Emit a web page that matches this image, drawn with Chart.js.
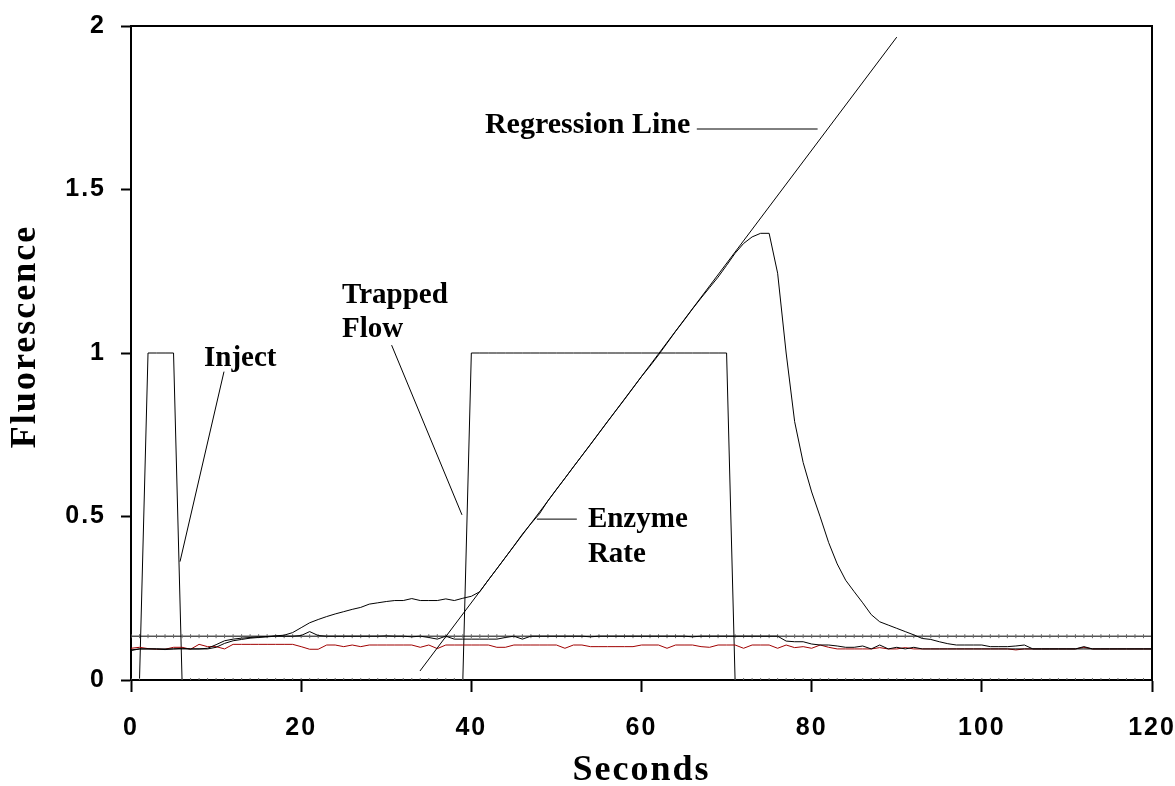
<!DOCTYPE html>
<html><head><meta charset="utf-8">
<script src="https://cdn.jsdelivr.net/npm/chart.js@4"></script>
<style>html,body{margin:0;padding:0;background:#fff;}canvas{display:block;}</style>
</head><body>
<canvas id="c" width="1175" height="786"></canvas>
<script>
const seconds = [0,1,2,3,4,5,6,7,8,9,10,11,12,13,14,15,16,17,18,19,20,21,22,23,24,25,26,27,28,29,30,31,32,33,34,35,36,37,38,39,40,41,42,43,44,45,46,47,48,49,50,51,52,53,54,55,56,57,58,59,60,61,62,63,64,65,66,67,68,69,70,71,72,73,74,75,76,77,78,79,80,81,82,83,84,85,86,87,88,89,90,91,92,93,94,95,96,97,98,99,100,101,102,103,104,105,106,107,108,109,110,111,112,113,114,115,116,117,118,119,120];

const valve = [0,0,1,1,1,1,0,0,0,0, 0,0,0,0,0,0,0,0,0,0, 0,0,0,0,0,0,0,0,0,0, 0,0,0,0,0,0,0,0,0,0,
  1,1,1,1,1,1,1,1,1,1, 1,1,1,1,1,1,1,1,1,1, 1,1,1,1,1,1,1,1,1,1, 1,0,0,0,0,0,0,0,0,0,
  0,0,0,0,0,0,0,0,0,0, 0,0,0,0,0,0,0,0,0,0, 0,0,0,0,0,0,0,0,0,0, 0,0,0,0,0,0,0,0,0,0, 0];

const threshold = [0.134,0.134,0.134,0.134,0.134,0.134,0.134,0.134,0.134,0.134, 0.134,0.134,0.134,0.134,0.134,0.134,0.134,0.134,0.134,0.134,
  0.134,0.134,0.134,0.134,0.134,0.134,0.134,0.134,0.134,0.134, 0.134,0.134,0.134,0.134,0.134,0.134,0.134,0.134,0.134,0.134,
  0.134,0.134,0.134,0.134,0.134,0.134,0.134,0.134,0.134,0.134, 0.134,0.134,0.134,0.134,0.134,0.134,0.134,0.134,0.134,0.134,
  0.134,0.134,0.134,0.134,0.134,0.134,0.134,0.134,0.134,0.134, 0.134,0.134,0.134,0.134,0.134,0.134,0.134,0.134,0.134,0.134,
  0.134,0.134,0.134,0.134,0.134,0.134,0.134,0.134,0.134,0.134, 0.134,0.134,0.134,0.134,0.134,0.134,0.134,0.134,0.134,0.134,
  0.134,0.134,0.134,0.134,0.134,0.134,0.134,0.134,0.134,0.134, 0.134,0.134,0.134,0.134,0.134,0.134,0.134,0.134,0.134,0.134, 0.134];

const sampleA = [0.092,0.095,0.095,0.095,0.093,0.095,0.097,0.095,0.095,0.097,
  0.108,0.120,0.125,0.128,0.130,0.132,0.133,0.135,0.137,0.145,
  0.160,0.175,0.185,0.194,0.202,0.209,0.216,0.222,0.232,0.236,
  0.240,0.243,0.243,0.249,0.243,0.243,0.243,0.248,0.243,0.250,
  0.256,0.270,0.306,0.340,0.375,0.410,0.446,0.478,0.508,0.548,
  0.583,0.617,0.652,0.686,0.720,0.755,0.790,0.824,0.858,0.893,
  0.928,0.960,0.994,1.030,1.066,1.100,1.135,1.168,1.200,1.232,
  1.268,1.305,1.335,1.355,1.366,1.366,1.244,1.000,0.790,0.665,
  0.575,0.499,0.420,0.355,0.305,0.270,0.236,0.200,0.178,0.168,
  0.158,0.148,0.138,0.127,0.124,0.117,0.111,0.107,0.107,0.107,
  0.107,0.102,0.102,0.102,0.104,0.107,0.095,0.095,0.095,0.095,
  0.095,0.095,0.095,0.095,0.095,0.095,0.095,0.095,0.095,0.095, 0.095];

const sampleB = [0.090,0.095,0.095,0.095,0.095,0.095,0.095,0.095,0.095,0.095,
  0.100,0.112,0.120,0.124,0.128,0.130,0.132,0.134,0.134,0.134,
  0.136,0.148,0.136,0.134,0.134,0.134,0.134,0.134,0.134,0.134,
  0.135,0.134,0.134,0.132,0.134,0.130,0.125,0.134,0.125,0.125,
  0.125,0.125,0.125,0.125,0.130,0.134,0.125,0.134,0.134,0.134,
  0.134,0.134,0.134,0.134,0.132,0.134,0.134,0.134,0.134,0.134,
  0.134,0.134,0.134,0.134,0.134,0.134,0.132,0.134,0.134,0.134,
  0.134,0.134,0.134,0.134,0.134,0.134,0.134,0.119,0.117,0.117,
  0.110,0.107,0.107,0.104,0.100,0.100,0.104,0.095,0.107,0.095,
  0.100,0.095,0.100,0.095,0.095,0.095,0.095,0.095,0.095,0.095,
  0.095,0.095,0.095,0.095,0.095,0.095,0.095,0.095,0.095,0.095,
  0.095,0.095,0.102,0.095,0.095,0.095,0.095,0.095,0.095,0.095, 0.095];

const control = [0.097,0.100,0.096,0.094,0.094,0.100,0.100,0.094,0.109,0.102,
  0.102,0.095,0.109,0.109,0.109,0.109,0.109,0.109,0.109,0.109,
  0.102,0.094,0.094,0.107,0.107,0.102,0.107,0.102,0.107,0.107,
  0.107,0.107,0.107,0.107,0.100,0.107,0.096,0.107,0.107,0.107,
  0.107,0.107,0.107,0.100,0.100,0.107,0.107,0.107,0.107,0.107,
  0.107,0.097,0.107,0.107,0.102,0.102,0.102,0.102,0.102,0.102,
  0.107,0.107,0.107,0.097,0.107,0.107,0.107,0.102,0.100,0.107,
  0.107,0.107,0.097,0.107,0.107,0.107,0.097,0.107,0.099,0.102,
  0.097,0.107,0.100,0.095,0.095,0.095,0.095,0.095,0.099,0.095,
  0.095,0.099,0.095,0.095,0.095,0.095,0.095,0.095,0.095,0.095,
  0.095,0.095,0.095,0.095,0.092,0.095,0.095,0.095,0.095,0.095,
  0.095,0.095,0.100,0.095,0.095,0.095,0.095,0.095,0.095,0.095, 0.095];

const regressionX = [33.96, 90.0];
const regressionY = [0.0275, 1.966];

const xTicks = [0, 20, 40, 60, 80, 100, 120];
const yTicks = [0, 0.5, 1, 1.5, 2];

// callout leader lines (data units)
const leaderInject = [{x:10.93, y:0.943}, {x:5.76, y:0.362}];
const leaderTrapped = [{x:30.63, y:1.024}, {x:38.9, y:0.505}];
const leaderRegression = [{x:66.5, y:1.685}, {x:80.7, y:1.685}];
const leaderEnzyme = [{x:47.7, y:0.492}, {x:52.4, y:0.492}];

// callout texts: anchor (left, baseline) in data units
const calloutTexts = [
  {lines:['Inject'], x:8.58, y:[0.960], size:29},
  {lines:['Trapped','Flow'], x:24.8, y:[1.152,1.050], size:29},
  {lines:['Regression Line'], x:41.6, y:[1.672], size:30},
  {lines:['Enzyme','Rate'], x:53.7, y:[0.469,0.362], size:29}
];

const spacingPlugin = {
  id:'spacing',
  beforeDraw(chart){ chart.ctx.letterSpacing = '2px'; }
};
const calloutPlugin = {
  id:'callouts',
  afterDatasetsDraw(chart){
    const {ctx, scales:{x, y}} = chart;
    ctx.save();
    ctx.letterSpacing = '0px';
    ctx.fillStyle = '#000';
    ctx.textAlign = 'left';
    ctx.textBaseline = 'alphabetic';
    calloutTexts.forEach(t => {
      ctx.font = 'bold ' + t.size + 'px "Liberation Serif"';
      const px = x.getPixelForValue(t.x);
      t.lines.forEach((line, i) => ctx.fillText(line, px, y.getPixelForValue(t.y[i])));
    });
    ctx.restore();
  }
};
const framePlugin = {
  id:'frame',
  afterDraw(chart){
    const {ctx, chartArea:a} = chart;
    ctx.save();
    ctx.strokeStyle = '#000';
    ctx.lineWidth = 2;
    ctx.beginPath();
    ctx.moveTo(a.left, a.top); ctx.lineTo(a.right, a.top); ctx.lineTo(a.right, a.bottom);
    ctx.stroke();
    ctx.restore();
  }
};

const lineDs = (label, data, color) => ({label, data, borderColor: color, borderWidth: 1, pointRadius: 0, fill: false, tension: 0});
const tickDs = (label, data) => ({label, data, borderColor:'#000', borderWidth:1, fill:false, tension:0,
  pointStyle:'line', pointRadius: c => (c.raw === 1 ? 0 : 2), pointRotation:90, pointBorderColor:'#666', pointBorderWidth:1, pointHoverRadius:0});

new Chart(document.getElementById('c'), {
  type: 'line',
  data: {
    labels: seconds,
    datasets: [
      lineDs('Sample A', sampleA, '#000'),
      lineDs('Sample B', sampleB, '#000'),
      lineDs('Regression', regressionX.map((v, i) => ({x: v, y: regressionY[i]})), '#000'),
      lineDs('Inject callout', leaderInject, '#000'),
      lineDs('Trapped Flow callout', leaderTrapped, '#000'),
      lineDs('Regression callout', leaderRegression, '#000'),
      lineDs('Enzyme Rate callout', leaderEnzyme, '#000'),
      lineDs('Control', control, '#a00000'),
      tickDs('Threshold', threshold),
      tickDs('Valve', valve)
    ]
  },
  options: {
    responsive: false,
    animation: false,
    events: [],
    layout: {padding: {top: 26, right: 23, left: 0, bottom: 0}},
    plugins: {legend: {display: false}, tooltip: {enabled: false}},
    scales: {
      x: {
        type: 'linear', min: 0, max: 120,
        afterBuildTicks: s => { s.ticks = xTicks.map(v => ({value: v})); },
        afterFit: s => { s.height = 106; s.paddingLeft = 0; s.paddingRight = 0; s.paddingTop = 0; s.paddingBottom = 0; },
        grid: {display: true, drawOnChartArea: false, drawTicks: true, tickLength: 12, tickWidth: 2, tickColor: '#000'},
        border: {display: true, color: '#000', width: 2},
        ticks: {color: '#000', padding: 21, maxRotation: 0, autoSkip: false, callback: v => String(v),
          font: {family: '"Liberation Sans", Arial, sans-serif', size: 25, weight: 'bold'}},
        title: {display: true, text: 'Seconds', color: '#000', padding: {top: 0, bottom: 0},
          font: {family: '"Liberation Serif", "Times New Roman", serif', size: 36, weight: 'bold', lineHeight: 0.85}}
      },
      y: {
        type: 'linear', min: 0, max: 2,
        afterBuildTicks: s => { s.ticks = yTicks.map(v => ({value: v})); },
        afterFit: s => { s.width = 131; s.paddingLeft = 0; s.paddingRight = 0; s.paddingTop = 0; s.paddingBottom = 0; },
        grid: {display: true, drawOnChartArea: false, drawTicks: true, tickLength: 10, tickWidth: 2, tickColor: '#000'},
        border: {display: true, color: '#000', width: 2},
        ticks: {color: '#000', padding: 15, callback: v => String(v),
          font: {family: '"Liberation Sans", Arial, sans-serif', size: 25, weight: 'bold'}},
        title: {display: true, text: '   Fluorescence', color: '#000', padding: {top: 4, bottom: 0},
          font: {family: '"Liberation Serif", "Times New Roman", serif', size: 36, weight: 'bold'}}
      }
    }
  },
  plugins: [spacingPlugin, calloutPlugin, framePlugin]
});
</script>
</body></html>
